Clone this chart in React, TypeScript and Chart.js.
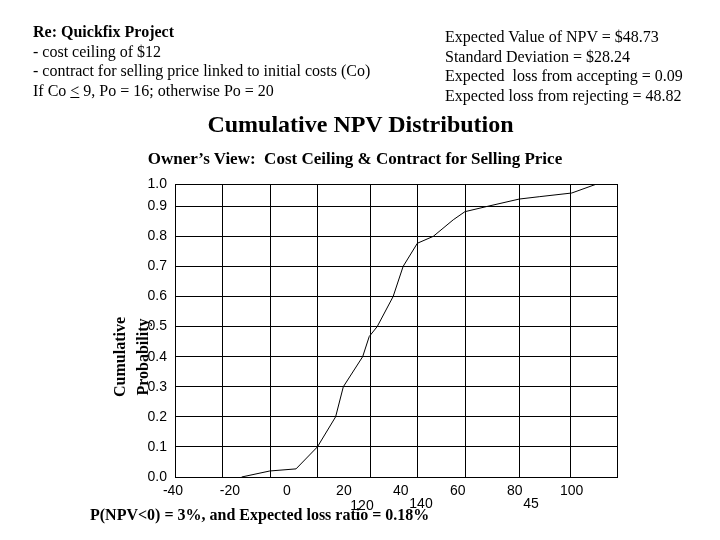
import React, { useEffect, useRef } from "react";
import { Chart, registerables } from "chart.js";

Chart.register(...registerables);

// Data
const npv = [-15.9, -6.0, 3.2, 10.7, 17.1, 19.8, 26.6, 28.9, 31.7, 37.3, 40.8, 45.8, 51.4, 58.4, 62.5, 70.1, 81.6, 88.8, 100.0, 108.8];
const cumProb = [0, 0.02, 0.027, 0.1, 0.2, 0.3, 0.4, 0.467, 0.5, 0.6, 0.7, 0.777, 0.8, 0.855, 0.882, 0.899, 0.924, 0.932, 0.944, 0.974];

// Axis ranges and tick values
const xMin = -39.3;
const xMax = 115.9;
const xGridValues = [-39.3, -22.6, -5.7, 10.65, 29.4, 45.8, 62.8, 81.6, 99.7, 115.9];
const xLabelValues = [-40, -20, 0, 20, 40, 60, 80, 100];
const yMax = 0.974;
const yTickValues = [0, 0.1, 0.2, 0.3, 0.4, 0.5, 0.6, 0.7, 0.8, 0.9, 0.974];

const headerLeft = [
  "- cost ceiling of $12",
  "- contract for selling price linked to initial costs (Co)",
];
const headerRight = [
  "Expected Value of NPV = $48.73",
  "Standard Deviation = $28.24",
  "Expected  loss from accepting = 0.09",
  "Expected loss from rejecting = 48.82",
];

const serif = '"Liberation Serif", "Times New Roman", serif';
const narrow = '"Liberation Sans Narrow", "Arial Narrow", "Liberation Sans", sans-serif';

export default function App() {
  const ref = useRef<HTMLCanvasElement | null>(null);

  useEffect(() => {
    if (!ref.current) return;
    const chart = new Chart(ref.current, {
      type: "line",
      data: {
        datasets: [
          {
            data: npv.map((x, i) => ({ x, y: cumProb[i] })),
            borderColor: "#000",
            borderWidth: 1,
            pointRadius: 0,
            tension: 0,
            fill: false,
            xAxisID: "x",
            yAxisID: "y",
          },
        ],
      },
      options: {
        animation: false,
        responsive: false,
        devicePixelRatio: 1,
        layout: { padding: { left: 0, top: 184, right: 103, bottom: 0 } },
        plugins: { legend: { display: false }, tooltip: { enabled: false }, title: { display: false } },
        scales: {
          x: {
            type: "linear",
            position: "bottom",
            min: xMin,
            max: xMax,
            afterBuildTicks: (s: any) => {
              s.ticks = xGridValues.map((v) => ({ value: v }));
            },
            afterFit: (s: any) => {
              s.height = 0;
            },
            grid: { color: "#000", lineWidth: 1, drawTicks: false },
            border: { color: "#000", width: 1 },
            ticks: { display: false },
          },
          x2: {
            type: "linear",
            position: "bottom",
            min: xMin,
            max: xMax,
            afterBuildTicks: (s: any) => {
              s.ticks = xLabelValues.map((v) => ({ value: v }));
            },
            afterFit: (s: any) => {
              s.height = 63;
            },
            grid: { display: false, drawTicks: false },
            border: { display: false },
            ticks: {
              autoSkip: false,
              maxRotation: 0,
              padding: 6,
              color: "#000",
              font: { family: narrow, size: 14 },
            },
          },
          y: {
            type: "linear",
            min: 0,
            max: yMax,
            afterBuildTicks: (s: any) => {
              s.ticks = yTickValues.map((v) => ({ value: v }));
            },
            afterFit: (s: any) => {
              s.width = 175;
            },
            grid: { color: "#000", lineWidth: 1, drawTicks: false },
            border: { color: "#000", width: 1 },
            ticks: {
              padding: 8,
              color: "#000",
              font: { family: narrow, size: 14 },
              callback: (v: any) => (Number(v) > 0.95 ? "1.0" : Number(v).toFixed(1)),
            },
          },
        },
      },
    });
    return () => chart.destroy();
  }, []);

  const abs = (extra: React.CSSProperties): React.CSSProperties => ({
    position: "absolute",
    whiteSpace: "nowrap",
    color: "#000",
    ...extra,
  });

  return (
    <div style={{ position: "fixed", left: 0, top: 0, width: 720, height: 540, background: "#fff", overflow: "hidden" }}>
      <canvas ref={ref} width={720} height={540} style={{ position: "absolute", left: 0, top: 0, width: 720, height: 540 }} />
      <div style={abs({ left: 33, top: 22, fontFamily: serif, fontSize: 16, lineHeight: "19.5px" })}>
        <div style={{ fontWeight: "bold" }}>Re: Quickfix Project</div>
        {headerLeft.map((t) => (
          <div key={t}>{t}</div>
        ))}
        <div>
          If Co <u>&lt;</u> 9, Po = 16; otherwise Po = 20
        </div>
      </div>
      <div style={abs({ left: 445, top: 27, fontFamily: serif, fontSize: 16, lineHeight: "19.7px" })}>
        {headerRight.map((t) => (
          <div key={t} style={{ whiteSpace: "pre" }}>{t}</div>
        ))}
      </div>
      <div style={abs({ left: 0, width: 721, top: 110, textAlign: "center", fontFamily: serif, fontSize: 24, fontWeight: "bold", lineHeight: "28px" })}>
        Cumulative NPV Distribution
      </div>
      <div style={abs({ left: 0, width: 710, top: 149, textAlign: "center", fontFamily: serif, fontSize: 17, fontWeight: "bold", lineHeight: "20px", whiteSpace: "pre" })}>
        {"Owner\u2019s View:  Cost Ceiling & Contract for Selling Price"}
      </div>
      <div
        style={abs({
          left: 131,
          top: 357,
          transform: "translate(-50%, -50%) rotate(-90deg)",
          fontFamily: serif,
          fontSize: 16,
          fontWeight: "bold",
          lineHeight: "23px",
          textAlign: "center",
        })}
      >
        <div>Cumulative</div>
        <div>Probability</div>
      </div>
      <div style={abs({ left: 90, top: 504, fontFamily: serif, fontSize: 16, fontWeight: "bold", lineHeight: "22px" })}>
        P(NPV&lt;0) = 3%, and Expected loss ratio = 0.18%
      </div>
      <div style={abs({ left: 362, top: 505, transform: "translate(-50%, -50%)", fontFamily: narrow, fontSize: 14 })}>120</div>
      <div style={abs({ left: 421, top: 503, transform: "translate(-50%, -50%)", fontFamily: narrow, fontSize: 14 })}>140</div>
      <div style={abs({ left: 531, top: 503, transform: "translate(-50%, -50%)", fontFamily: '"Liberation Sans", Arial, sans-serif', fontSize: 14 })}>45</div>
    </div>
  );
}
